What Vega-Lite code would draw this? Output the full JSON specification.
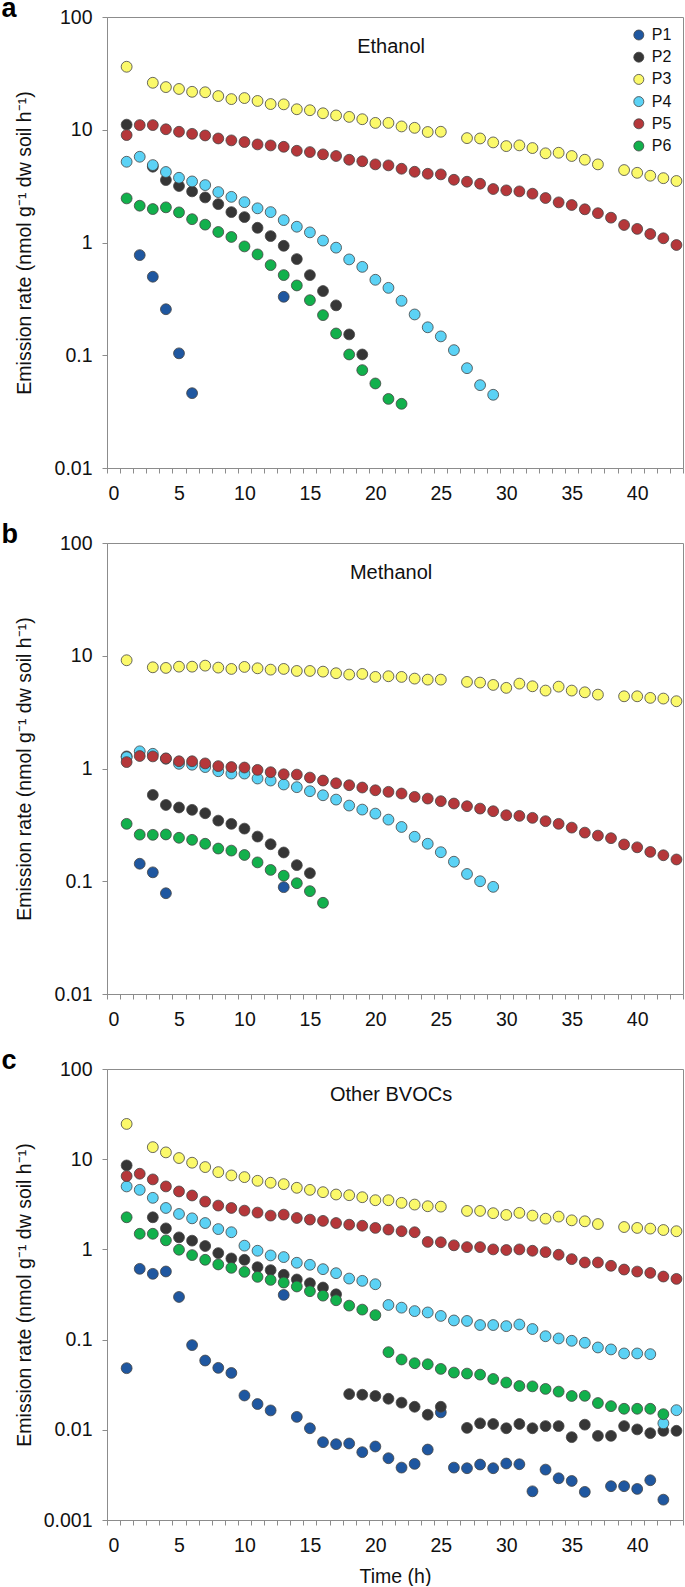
{
  "$schema": "https://vega.github.io/schema/vega-lite/v6.json",
  "padding": {"top": -6, "left": 0, "right": 2, "bottom": 0},
  "spacing": 16,
  "config": {
    "font": "Liberation Sans",
    "view": {"stroke": "#8c8c8c", "strokeWidth": 1},
    "axis": {"grid": false, "domainColor": "#8c8c8c", "tickColor": "#8c8c8c", "tickSize": 5, "labelFontSize": 19.5, "titleFontSize": 19.5, "labelColor": "#111", "titleColor": "#111", "titleFontWeight": "normal", "labelPadding": 10, "labelOverlap": false, "labelFlush": false},
    "axisX": {"labelOverlap": false, "labelFlush": false, "labelPadding": 11.5, "labelAlign": "center"},
    "title": {"fontSize": 27, "fontWeight": "bold", "color": "#000", "anchor": "start", "frame": "bounds", "dx": -13, "offset": -16}
  },
  "resolve": {"scale": {"x": "independent", "y": "independent", "color": "independent"}, "legend": {"color": "independent"}},
  "datasets": {
    "pts": [
      {"p":"a","s":"P1","t":2,"v":0.773},{"p":"a","s":"P1","t":3,"v":0.497},{"p":"a","s":"P1","t":4,"v":0.256},{"p":"a","s":"P1","t":5,"v":0.104},{"p":"a","s":"P1","t":6,"v":0.0461},{"p":"a","s":"P1","t":13,"v":0.33},
      {"p":"a","s":"P2","t":1,"v":11.1},{"p":"a","s":"P2","t":3,"v":4.7},{"p":"a","s":"P2","t":4,"v":3.58},{"p":"a","s":"P2","t":5,"v":3.17},{"p":"a","s":"P2","t":6,"v":2.84},{"p":"a","s":"P2","t":7,"v":2.51},{"p":"a","s":"P2","t":8,"v":2.19},{"p":"a","s":"P2","t":9,"v":1.86},{"p":"a","s":"P2","t":10,"v":1.68},{"p":"a","s":"P2","t":11,"v":1.35},{"p":"a","s":"P2","t":12,"v":1.14},{"p":"a","s":"P2","t":13,"v":0.935},{"p":"a","s":"P2","t":14,"v":0.713},{"p":"a","s":"P2","t":15,"v":0.514},{"p":"a","s":"P2","t":16,"v":0.371},{"p":"a","s":"P2","t":17,"v":0.277},{"p":"a","s":"P2","t":18,"v":0.153},{"p":"a","s":"P2","t":19,"v":0.1016},
      {"p":"a","s":"P3","t":1,"v":36.2},{"p":"a","s":"P3","t":3,"v":26.1},{"p":"a","s":"P3","t":4,"v":23.9},{"p":"a","s":"P3","t":5,"v":23.0},{"p":"a","s":"P3","t":6,"v":21.7},{"p":"a","s":"P3","t":7,"v":21.5},{"p":"a","s":"P3","t":8,"v":19.9},{"p":"a","s":"P3","t":9,"v":18.7},{"p":"a","s":"P3","t":10,"v":19.1},{"p":"a","s":"P3","t":11,"v":18.0},{"p":"a","s":"P3","t":12,"v":16.9},{"p":"a","s":"P3","t":13,"v":16.8},{"p":"a","s":"P3","t":14,"v":15.2},{"p":"a","s":"P3","t":15,"v":14.9},{"p":"a","s":"P3","t":16,"v":14.0},{"p":"a","s":"P3","t":17,"v":13.4},{"p":"a","s":"P3","t":18,"v":13.0},{"p":"a","s":"P3","t":19,"v":12.4},{"p":"a","s":"P3","t":20,"v":11.5},{"p":"a","s":"P3","t":21,"v":11.5},{"p":"a","s":"P3","t":22,"v":10.7},{"p":"a","s":"P3","t":23,"v":10.4},{"p":"a","s":"P3","t":24,"v":9.55},{"p":"a","s":"P3","t":25,"v":9.6},{"p":"a","s":"P3","t":27,"v":8.43},{"p":"a","s":"P3","t":28,"v":8.37},{"p":"a","s":"P3","t":29,"v":7.72},{"p":"a","s":"P3","t":30,"v":7.16},{"p":"a","s":"P3","t":31,"v":7.27},{"p":"a","s":"P3","t":32,"v":6.88},{"p":"a","s":"P3","t":33,"v":6.18},{"p":"a","s":"P3","t":34,"v":6.25},{"p":"a","s":"P3","t":35,"v":5.85},{"p":"a","s":"P3","t":36,"v":5.42},{"p":"a","s":"P3","t":37,"v":4.93},{"p":"a","s":"P3","t":39,"v":4.39},{"p":"a","s":"P3","t":40,"v":4.15},{"p":"a","s":"P3","t":41,"v":3.91},{"p":"a","s":"P3","t":42,"v":3.72},{"p":"a","s":"P3","t":43,"v":3.51},
      {"p":"a","s":"P4","t":1,"v":5.2},{"p":"a","s":"P4","t":2,"v":5.76},{"p":"a","s":"P4","t":3,"v":4.86},{"p":"a","s":"P4","t":4,"v":4.22},{"p":"a","s":"P4","t":5,"v":3.75},{"p":"a","s":"P4","t":6,"v":3.48},{"p":"a","s":"P4","t":7,"v":3.23},{"p":"a","s":"P4","t":8,"v":2.8},{"p":"a","s":"P4","t":9,"v":2.54},{"p":"a","s":"P4","t":10,"v":2.28},{"p":"a","s":"P4","t":11,"v":2.01},{"p":"a","s":"P4","t":12,"v":1.86},{"p":"a","s":"P4","t":13,"v":1.58},{"p":"a","s":"P4","t":14,"v":1.38},{"p":"a","s":"P4","t":15,"v":1.23},{"p":"a","s":"P4","t":16,"v":1.04},{"p":"a","s":"P4","t":17,"v":0.9},{"p":"a","s":"P4","t":18,"v":0.708},{"p":"a","s":"P4","t":19,"v":0.608},{"p":"a","s":"P4","t":20,"v":0.467},{"p":"a","s":"P4","t":21,"v":0.396},{"p":"a","s":"P4","t":22,"v":0.304},{"p":"a","s":"P4","t":23,"v":0.23},{"p":"a","s":"P4","t":24,"v":0.177},{"p":"a","s":"P4","t":25,"v":0.147},{"p":"a","s":"P4","t":26,"v":0.111},{"p":"a","s":"P4","t":27,"v":0.0768},{"p":"a","s":"P4","t":28,"v":0.0543},{"p":"a","s":"P4","t":29,"v":0.0446},
      {"p":"a","s":"P5","t":1,"v":8.97},{"p":"a","s":"P5","t":2,"v":11.0},{"p":"a","s":"P5","t":3,"v":11.0},{"p":"a","s":"P5","t":4,"v":10.1},{"p":"a","s":"P5","t":5,"v":9.6},{"p":"a","s":"P5","t":6,"v":9.2},{"p":"a","s":"P5","t":7,"v":8.9},{"p":"a","s":"P5","t":8,"v":8.37},{"p":"a","s":"P5","t":9,"v":8.05},{"p":"a","s":"P5","t":10,"v":7.78},{"p":"a","s":"P5","t":11,"v":7.41},{"p":"a","s":"P5","t":12,"v":7.26},{"p":"a","s":"P5","t":13,"v":7.06},{"p":"a","s":"P5","t":14,"v":6.51},{"p":"a","s":"P5","t":15,"v":6.34},{"p":"a","s":"P5","t":16,"v":6.05},{"p":"a","s":"P5","t":17,"v":5.85},{"p":"a","s":"P5","t":18,"v":5.42},{"p":"a","s":"P5","t":19,"v":5.25},{"p":"a","s":"P5","t":20,"v":4.93},{"p":"a","s":"P5","t":21,"v":4.83},{"p":"a","s":"P5","t":22,"v":4.51},{"p":"a","s":"P5","t":23,"v":4.24},{"p":"a","s":"P5","t":24,"v":4.07},{"p":"a","s":"P5","t":25,"v":4.02},{"p":"a","s":"P5","t":26,"v":3.6},{"p":"a","s":"P5","t":27,"v":3.46},{"p":"a","s":"P5","t":28,"v":3.32},{"p":"a","s":"P5","t":29,"v":2.98},{"p":"a","s":"P5","t":30,"v":2.9},{"p":"a","s":"P5","t":31,"v":2.84},{"p":"a","s":"P5","t":32,"v":2.71},{"p":"a","s":"P5","t":33,"v":2.48},{"p":"a","s":"P5","t":34,"v":2.27},{"p":"a","s":"P5","t":35,"v":2.15},{"p":"a","s":"P5","t":36,"v":1.97},{"p":"a","s":"P5","t":37,"v":1.82},{"p":"a","s":"P5","t":38,"v":1.66},{"p":"a","s":"P5","t":39,"v":1.43},{"p":"a","s":"P5","t":40,"v":1.32},{"p":"a","s":"P5","t":41,"v":1.19},{"p":"a","s":"P5","t":42,"v":1.09},{"p":"a","s":"P5","t":43,"v":0.95},
      {"p":"a","s":"P6","t":1,"v":2.46},{"p":"a","s":"P6","t":2,"v":2.12},{"p":"a","s":"P6","t":3,"v":1.98},{"p":"a","s":"P6","t":4,"v":2.05},{"p":"a","s":"P6","t":5,"v":1.85},{"p":"a","s":"P6","t":6,"v":1.61},{"p":"a","s":"P6","t":7,"v":1.44},{"p":"a","s":"P6","t":8,"v":1.24},{"p":"a","s":"P6","t":9,"v":1.12},{"p":"a","s":"P6","t":10,"v":0.923},{"p":"a","s":"P6","t":11,"v":0.784},{"p":"a","s":"P6","t":12,"v":0.63},{"p":"a","s":"P6","t":13,"v":0.514},{"p":"a","s":"P6","t":14,"v":0.416},{"p":"a","s":"P6","t":15,"v":0.308},{"p":"a","s":"P6","t":16,"v":0.227},{"p":"a","s":"P6","t":17,"v":0.156},{"p":"a","s":"P6","t":18,"v":0.1016},{"p":"a","s":"P6","t":19,"v":0.0738},{"p":"a","s":"P6","t":20,"v":0.0562},{"p":"a","s":"P6","t":21,"v":0.041},{"p":"a","s":"P6","t":22,"v":0.0371},

      {"p":"b","s":"P1","t":2,"v":0.143},{"p":"b","s":"P1","t":3,"v":0.12},{"p":"b","s":"P1","t":4,"v":0.0783},{"p":"b","s":"P1","t":13,"v":0.0886},
      {"p":"b","s":"P2","t":1,"v":1.28},{"p":"b","s":"P2","t":3,"v":0.583},{"p":"b","s":"P2","t":4,"v":0.475},{"p":"b","s":"P2","t":5,"v":0.451},{"p":"b","s":"P2","t":6,"v":0.43},{"p":"b","s":"P2","t":7,"v":0.401},{"p":"b","s":"P2","t":8,"v":0.345},{"p":"b","s":"P2","t":9,"v":0.323},{"p":"b","s":"P2","t":10,"v":0.293},{"p":"b","s":"P2","t":11,"v":0.249},{"p":"b","s":"P2","t":12,"v":0.213},{"p":"b","s":"P2","t":13,"v":0.18},{"p":"b","s":"P2","t":14,"v":0.139},{"p":"b","s":"P2","t":15,"v":0.118},
      {"p":"b","s":"P3","t":1,"v":9.12},{"p":"b","s":"P3","t":3,"v":7.9},{"p":"b","s":"P3","t":4,"v":7.8},{"p":"b","s":"P3","t":5,"v":8.0},{"p":"b","s":"P3","t":6,"v":8.0},{"p":"b","s":"P3","t":7,"v":8.17},{"p":"b","s":"P3","t":8,"v":7.85},{"p":"b","s":"P3","t":9,"v":7.64},{"p":"b","s":"P3","t":10,"v":7.96},{"p":"b","s":"P3","t":11,"v":7.74},{"p":"b","s":"P3","t":12,"v":7.53},{"p":"b","s":"P3","t":13,"v":7.64},{"p":"b","s":"P3","t":14,"v":7.33},{"p":"b","s":"P3","t":15,"v":7.33},{"p":"b","s":"P3","t":16,"v":7.23},{"p":"b","s":"P3","t":17,"v":7.0},{"p":"b","s":"P3","t":18,"v":6.81},{"p":"b","s":"P3","t":19,"v":6.9},{"p":"b","s":"P3","t":20,"v":6.49},{"p":"b","s":"P3","t":21,"v":6.58},{"p":"b","s":"P3","t":22,"v":6.49},{"p":"b","s":"P3","t":23,"v":6.27},{"p":"b","s":"P3","t":24,"v":6.14},{"p":"b","s":"P3","t":25,"v":6.14},{"p":"b","s":"P3","t":27,"v":5.86},{"p":"b","s":"P3","t":28,"v":5.78},{"p":"b","s":"P3","t":29,"v":5.51},{"p":"b","s":"P3","t":30,"v":5.19},{"p":"b","s":"P3","t":31,"v":5.66},{"p":"b","s":"P3","t":32,"v":5.36},{"p":"b","s":"P3","t":33,"v":4.91},{"p":"b","s":"P3","t":34,"v":5.32},{"p":"b","s":"P3","t":35,"v":4.91},{"p":"b","s":"P3","t":36,"v":4.74},{"p":"b","s":"P3","t":37,"v":4.52},{"p":"b","s":"P3","t":39,"v":4.37},{"p":"b","s":"P3","t":40,"v":4.37},{"p":"b","s":"P3","t":41,"v":4.23},{"p":"b","s":"P3","t":42,"v":4.17},{"p":"b","s":"P3","t":43,"v":3.95},
      {"p":"b","s":"P4","t":1,"v":1.26},{"p":"b","s":"P4","t":2,"v":1.42},{"p":"b","s":"P4","t":3,"v":1.35},{"p":"b","s":"P4","t":4,"v":1.22},{"p":"b","s":"P4","t":5,"v":1.1},{"p":"b","s":"P4","t":6,"v":1.08},{"p":"b","s":"P4","t":7,"v":1.03},{"p":"b","s":"P4","t":8,"v":0.946},{"p":"b","s":"P4","t":9,"v":0.902},{"p":"b","s":"P4","t":10,"v":0.902},{"p":"b","s":"P4","t":11,"v":0.815},{"p":"b","s":"P4","t":12,"v":0.782},{"p":"b","s":"P4","t":13,"v":0.721},{"p":"b","s":"P4","t":14,"v":0.683},{"p":"b","s":"P4","t":15,"v":0.629},{"p":"b","s":"P4","t":16,"v":0.579},{"p":"b","s":"P4","t":17,"v":0.53},{"p":"b","s":"P4","t":18,"v":0.469},{"p":"b","s":"P4","t":19,"v":0.432},{"p":"b","s":"P4","t":20,"v":0.398},{"p":"b","s":"P4","t":21,"v":0.352},{"p":"b","s":"P4","t":22,"v":0.303},{"p":"b","s":"P4","t":23,"v":0.248},{"p":"b","s":"P4","t":24,"v":0.215},{"p":"b","s":"P4","t":25,"v":0.181},{"p":"b","s":"P4","t":26,"v":0.149},{"p":"b","s":"P4","t":27,"v":0.116},{"p":"b","s":"P4","t":28,"v":0.1},{"p":"b","s":"P4","t":29,"v":0.0892},
      {"p":"b","s":"P5","t":1,"v":1.14},{"p":"b","s":"P5","t":2,"v":1.29},{"p":"b","s":"P5","t":3,"v":1.28},{"p":"b","s":"P5","t":4,"v":1.23},{"p":"b","s":"P5","t":5,"v":1.16},{"p":"b","s":"P5","t":6,"v":1.16},{"p":"b","s":"P5","t":7,"v":1.11},{"p":"b","s":"P5","t":8,"v":1.05},{"p":"b","s":"P5","t":9,"v":1.03},{"p":"b","s":"P5","t":10,"v":1.02},{"p":"b","s":"P5","t":11,"v":0.972},{"p":"b","s":"P5","t":12,"v":0.927},{"p":"b","s":"P5","t":13,"v":0.889},{"p":"b","s":"P5","t":14,"v":0.883},{"p":"b","s":"P5","t":15,"v":0.831},{"p":"b","s":"P5","t":16,"v":0.782},{"p":"b","s":"P5","t":17,"v":0.74},{"p":"b","s":"P5","t":18,"v":0.711},{"p":"b","s":"P5","t":19,"v":0.678},{"p":"b","s":"P5","t":20,"v":0.641},{"p":"b","s":"P5","t":21,"v":0.621},{"p":"b","s":"P5","t":22,"v":0.6},{"p":"b","s":"P5","t":23,"v":0.56},{"p":"b","s":"P5","t":24,"v":0.541},{"p":"b","s":"P5","t":25,"v":0.513},{"p":"b","s":"P5","t":26,"v":0.489},{"p":"b","s":"P5","t":27,"v":0.463},{"p":"b","s":"P5","t":28,"v":0.441},{"p":"b","s":"P5","t":29,"v":0.418},{"p":"b","s":"P5","t":30,"v":0.385},{"p":"b","s":"P5","t":31,"v":0.38},{"p":"b","s":"P5","t":32,"v":0.365},{"p":"b","s":"P5","t":33,"v":0.341},{"p":"b","s":"P5","t":34,"v":0.323},{"p":"b","s":"P5","t":35,"v":0.299},{"p":"b","s":"P5","t":36,"v":0.27},{"p":"b","s":"P5","t":37,"v":0.254},{"p":"b","s":"P5","t":38,"v":0.241},{"p":"b","s":"P5","t":39,"v":0.212},{"p":"b","s":"P5","t":40,"v":0.2},{"p":"b","s":"P5","t":41,"v":0.182},{"p":"b","s":"P5","t":42,"v":0.17},{"p":"b","s":"P5","t":43,"v":0.156},
      {"p":"b","s":"P6","t":1,"v":0.323},{"p":"b","s":"P6","t":2,"v":0.259},{"p":"b","s":"P6","t":3,"v":0.258},{"p":"b","s":"P6","t":4,"v":0.26},{"p":"b","s":"P6","t":5,"v":0.243},{"p":"b","s":"P6","t":6,"v":0.233},{"p":"b","s":"P6","t":7,"v":0.215},{"p":"b","s":"P6","t":8,"v":0.195},{"p":"b","s":"P6","t":9,"v":0.187},{"p":"b","s":"P6","t":10,"v":0.171},{"p":"b","s":"P6","t":11,"v":0.147},{"p":"b","s":"P6","t":12,"v":0.126},{"p":"b","s":"P6","t":13,"v":0.112},{"p":"b","s":"P6","t":14,"v":0.0961},{"p":"b","s":"P6","t":15,"v":0.0817},{"p":"b","s":"P6","t":16,"v":0.0644},

      {"p":"c","s":"P1","t":1,"v":0.0482},{"p":"c","s":"P1","t":2,"v":0.609},{"p":"c","s":"P1","t":3,"v":0.536},{"p":"c","s":"P1","t":4,"v":0.569},{"p":"c","s":"P1","t":5,"v":0.297},{"p":"c","s":"P1","t":6,"v":0.0869},{"p":"c","s":"P1","t":7,"v":0.0586},{"p":"c","s":"P1","t":8,"v":0.0486},{"p":"c","s":"P1","t":9,"v":0.0427},{"p":"c","s":"P1","t":10,"v":0.024},{"p":"c","s":"P1","t":11,"v":0.0193},{"p":"c","s":"P1","t":12,"v":0.0164},{"p":"c","s":"P1","t":13,"v":0.313},{"p":"c","s":"P1","t":14,"v":0.0139},{"p":"c","s":"P1","t":15,"v":0.0104},{"p":"c","s":"P1","t":16,"v":0.00729},{"p":"c","s":"P1","t":17,"v":0.00693},{"p":"c","s":"P1","t":18,"v":0.00705},{"p":"c","s":"P1","t":19,"v":0.00565},{"p":"c","s":"P1","t":20,"v":0.00653},{"p":"c","s":"P1","t":21,"v":0.00484},{"p":"c","s":"P1","t":22,"v":0.00381},{"p":"c","s":"P1","t":23,"v":0.00419},{"p":"c","s":"P1","t":24,"v":0.00604},{"p":"c","s":"P1","t":25,"v":0.0156},{"p":"c","s":"P1","t":26,"v":0.00381},{"p":"c","s":"P1","t":27,"v":0.00375},{"p":"c","s":"P1","t":28,"v":0.00412},{"p":"c","s":"P1","t":29,"v":0.00375},{"p":"c","s":"P1","t":30,"v":0.00423},{"p":"c","s":"P1","t":31,"v":0.00415},{"p":"c","s":"P1","t":32,"v":0.00208},{"p":"c","s":"P1","t":33,"v":0.00362},{"p":"c","s":"P1","t":34,"v":0.0029},{"p":"c","s":"P1","t":35,"v":0.00271},{"p":"c","s":"P1","t":36,"v":0.00205},{"p":"c","s":"P1","t":38,"v":0.00237},{"p":"c","s":"P1","t":39,"v":0.00237},{"p":"c","s":"P1","t":40,"v":0.00221},{"p":"c","s":"P1","t":41,"v":0.00276},{"p":"c","s":"P1","t":42,"v":0.00168},
      {"p":"c","s":"P2","t":1,"v":8.53},{"p":"c","s":"P2","t":3,"v":2.27},{"p":"c","s":"P2","t":4,"v":1.71},{"p":"c","s":"P2","t":5,"v":1.36},{"p":"c","s":"P2","t":6,"v":1.25},{"p":"c","s":"P2","t":7,"v":1.09},{"p":"c","s":"P2","t":8,"v":0.91},{"p":"c","s":"P2","t":9,"v":0.794},{"p":"c","s":"P2","t":10,"v":0.767},{"p":"c","s":"P2","t":11,"v":0.635},{"p":"c","s":"P2","t":12,"v":0.589},{"p":"c","s":"P2","t":13,"v":0.523},{"p":"c","s":"P2","t":14,"v":0.464},{"p":"c","s":"P2","t":15,"v":0.422},{"p":"c","s":"P2","t":16,"v":0.378},{"p":"c","s":"P2","t":17,"v":0.318},{"p":"c","s":"P2","t":18,"v":0.0249},{"p":"c","s":"P2","t":19,"v":0.0245},{"p":"c","s":"P2","t":20,"v":0.0237},{"p":"c","s":"P2","t":21,"v":0.0221},{"p":"c","s":"P2","t":22,"v":0.02},{"p":"c","s":"P2","t":23,"v":0.018},{"p":"c","s":"P2","t":24,"v":0.0147},{"p":"c","s":"P2","t":25,"v":0.018},{"p":"c","s":"P2","t":27,"v":0.0105},{"p":"c","s":"P2","t":28,"v":0.0118},{"p":"c","s":"P2","t":29,"v":0.0116},{"p":"c","s":"P2","t":30,"v":0.0104},{"p":"c","s":"P2","t":31,"v":0.0116},{"p":"c","s":"P2","t":32,"v":0.0104},{"p":"c","s":"P2","t":33,"v":0.011},{"p":"c","s":"P2","t":34,"v":0.011},{"p":"c","s":"P2","t":35,"v":0.00829},{"p":"c","s":"P2","t":36,"v":0.0114},{"p":"c","s":"P2","t":37,"v":0.00857},{"p":"c","s":"P2","t":38,"v":0.00857},{"p":"c","s":"P2","t":39,"v":0.011},{"p":"c","s":"P2","t":40,"v":0.0101},{"p":"c","s":"P2","t":41,"v":0.00918},{"p":"c","s":"P2","t":42,"v":0.00975},{"p":"c","s":"P2","t":43,"v":0.00975},
      {"p":"c","s":"P3","t":1,"v":24.6},{"p":"c","s":"P3","t":3,"v":13.6},{"p":"c","s":"P3","t":4,"v":11.9},{"p":"c","s":"P3","t":5,"v":10.3},{"p":"c","s":"P3","t":6,"v":9.14},{"p":"c","s":"P3","t":7,"v":8.18},{"p":"c","s":"P3","t":8,"v":7.19},{"p":"c","s":"P3","t":9,"v":6.61},{"p":"c","s":"P3","t":10,"v":6.33},{"p":"c","s":"P3","t":11,"v":5.76},{"p":"c","s":"P3","t":12,"v":5.48},{"p":"c","s":"P3","t":13,"v":5.29},{"p":"c","s":"P3","t":14,"v":4.82},{"p":"c","s":"P3","t":15,"v":4.57},{"p":"c","s":"P3","t":16,"v":4.31},{"p":"c","s":"P3","t":17,"v":4.06},{"p":"c","s":"P3","t":18,"v":3.99},{"p":"c","s":"P3","t":19,"v":3.79},{"p":"c","s":"P3","t":20,"v":3.51},{"p":"c","s":"P3","t":21,"v":3.51},{"p":"c","s":"P3","t":22,"v":3.28},{"p":"c","s":"P3","t":23,"v":3.14},{"p":"c","s":"P3","t":24,"v":3.01},{"p":"c","s":"P3","t":25,"v":2.98},{"p":"c","s":"P3","t":27,"v":2.67},{"p":"c","s":"P3","t":28,"v":2.67},{"p":"c","s":"P3","t":29,"v":2.52},{"p":"c","s":"P3","t":30,"v":2.41},{"p":"c","s":"P3","t":31,"v":2.54},{"p":"c","s":"P3","t":32,"v":2.37},{"p":"c","s":"P3","t":33,"v":2.19},{"p":"c","s":"P3","t":34,"v":2.31},{"p":"c","s":"P3","t":35,"v":2.1},{"p":"c","s":"P3","t":36,"v":2.05},{"p":"c","s":"P3","t":37,"v":1.91},{"p":"c","s":"P3","t":39,"v":1.77},{"p":"c","s":"P3","t":40,"v":1.73},{"p":"c","s":"P3","t":41,"v":1.7},{"p":"c","s":"P3","t":42,"v":1.64},{"p":"c","s":"P3","t":43,"v":1.59},
      {"p":"c","s":"P4","t":1,"v":4.99},{"p":"c","s":"P4","t":2,"v":4.57},{"p":"c","s":"P4","t":3,"v":3.73},{"p":"c","s":"P4","t":4,"v":2.88},{"p":"c","s":"P4","t":5,"v":2.47},{"p":"c","s":"P4","t":6,"v":2.21},{"p":"c","s":"P4","t":7,"v":1.96},{"p":"c","s":"P4","t":8,"v":1.68},{"p":"c","s":"P4","t":9,"v":1.55},{"p":"c","s":"P4","t":10,"v":1.1},{"p":"c","s":"P4","t":11,"v":0.966},{"p":"c","s":"P4","t":12,"v":0.857},{"p":"c","s":"P4","t":13,"v":0.822},{"p":"c","s":"P4","t":14,"v":0.711},{"p":"c","s":"P4","t":15,"v":0.675},{"p":"c","s":"P4","t":16,"v":0.604},{"p":"c","s":"P4","t":17,"v":0.545},{"p":"c","s":"P4","t":18,"v":0.475},{"p":"c","s":"P4","t":19,"v":0.448},{"p":"c","s":"P4","t":20,"v":0.411},{"p":"c","s":"P4","t":21,"v":0.242},{"p":"c","s":"P4","t":22,"v":0.226},{"p":"c","s":"P4","t":23,"v":0.207},{"p":"c","s":"P4","t":24,"v":0.2},{"p":"c","s":"P4","t":25,"v":0.183},{"p":"c","s":"P4","t":26,"v":0.163},{"p":"c","s":"P4","t":27,"v":0.161},{"p":"c","s":"P4","t":28,"v":0.145},{"p":"c","s":"P4","t":29,"v":0.145},{"p":"c","s":"P4","t":30,"v":0.141},{"p":"c","s":"P4","t":31,"v":0.147},{"p":"c","s":"P4","t":32,"v":0.131},{"p":"c","s":"P4","t":33,"v":0.109},{"p":"c","s":"P4","t":34,"v":0.103},{"p":"c","s":"P4","t":35,"v":0.097},{"p":"c","s":"P4","t":36,"v":0.0922},{"p":"c","s":"P4","t":37,"v":0.0818},{"p":"c","s":"P4","t":38,"v":0.0778},{"p":"c","s":"P4","t":39,"v":0.0702},{"p":"c","s":"P4","t":40,"v":0.0702},{"p":"c","s":"P4","t":41,"v":0.069},{"p":"c","s":"P4","t":42,"v":0.0118},{"p":"c","s":"P4","t":43,"v":0.0165},
      {"p":"c","s":"P5","t":1,"v":6.5},{"p":"c","s":"P5","t":2,"v":6.9},{"p":"c","s":"P5","t":3,"v":5.97},{"p":"c","s":"P5","t":4,"v":4.99},{"p":"c","s":"P5","t":5,"v":4.39},{"p":"c","s":"P5","t":6,"v":3.96},{"p":"c","s":"P5","t":7,"v":3.39},{"p":"c","s":"P5","t":8,"v":3.06},{"p":"c","s":"P5","t":9,"v":2.88},{"p":"c","s":"P5","t":10,"v":2.69},{"p":"c","s":"P5","t":11,"v":2.56},{"p":"c","s":"P5","t":12,"v":2.37},{"p":"c","s":"P5","t":13,"v":2.43},{"p":"c","s":"P5","t":14,"v":2.23},{"p":"c","s":"P5","t":15,"v":2.14},{"p":"c","s":"P5","t":16,"v":2.07},{"p":"c","s":"P5","t":17,"v":1.96},{"p":"c","s":"P5","t":18,"v":1.88},{"p":"c","s":"P5","t":19,"v":1.83},{"p":"c","s":"P5","t":20,"v":1.73},{"p":"c","s":"P5","t":21,"v":1.66},{"p":"c","s":"P5","t":22,"v":1.59},{"p":"c","s":"P5","t":23,"v":1.55},{"p":"c","s":"P5","t":24,"v":1.21},{"p":"c","s":"P5","t":25,"v":1.2},{"p":"c","s":"P5","t":26,"v":1.11},{"p":"c","s":"P5","t":27,"v":1.06},{"p":"c","s":"P5","t":28,"v":1.06},{"p":"c","s":"P5","t":29,"v":1.0},{"p":"c","s":"P5","t":30,"v":0.984},{"p":"c","s":"P5","t":31,"v":1.0},{"p":"c","s":"P5","t":32,"v":0.966},{"p":"c","s":"P5","t":33,"v":0.934},{"p":"c","s":"P5","t":34,"v":0.873},{"p":"c","s":"P5","t":35,"v":0.78},{"p":"c","s":"P5","t":36,"v":0.716},{"p":"c","s":"P5","t":37,"v":0.716},{"p":"c","s":"P5","t":38,"v":0.658},{"p":"c","s":"P5","t":39,"v":0.598},{"p":"c","s":"P5","t":40,"v":0.568},{"p":"c","s":"P5","t":41,"v":0.549},{"p":"c","s":"P5","t":42,"v":0.5},{"p":"c","s":"P5","t":43,"v":0.471},
      {"p":"c","s":"P6","t":1,"v":2.27},{"p":"c","s":"P6","t":2,"v":1.49},{"p":"c","s":"P6","t":3,"v":1.49},{"p":"c","s":"P6","t":4,"v":1.26},{"p":"c","s":"P6","t":5,"v":0.991},{"p":"c","s":"P6","t":6,"v":0.865},{"p":"c","s":"P6","t":7,"v":0.767},{"p":"c","s":"P6","t":8,"v":0.681},{"p":"c","s":"P6","t":9,"v":0.625},{"p":"c","s":"P6","t":10,"v":0.564},{"p":"c","s":"P6","t":11,"v":0.496},{"p":"c","s":"P6","t":12,"v":0.459},{"p":"c","s":"P6","t":13,"v":0.429},{"p":"c","s":"P6","t":14,"v":0.388},{"p":"c","s":"P6","t":15,"v":0.344},{"p":"c","s":"P6","t":16,"v":0.307},{"p":"c","s":"P6","t":17,"v":0.273},{"p":"c","s":"P6","t":18,"v":0.238},{"p":"c","s":"P6","t":19,"v":0.215},{"p":"c","s":"P6","t":20,"v":0.187},{"p":"c","s":"P6","t":21,"v":0.0726},{"p":"c","s":"P6","t":22,"v":0.0602},{"p":"c","s":"P6","t":23,"v":0.0547},{"p":"c","s":"P6","t":24,"v":0.0533},{"p":"c","s":"P6","t":25,"v":0.0473},{"p":"c","s":"P6","t":26,"v":0.0431},{"p":"c","s":"P6","t":27,"v":0.042},{"p":"c","s":"P6","t":28,"v":0.0409},{"p":"c","s":"P6","t":29,"v":0.0366},{"p":"c","s":"P6","t":30,"v":0.0334},{"p":"c","s":"P6","t":31,"v":0.0306},{"p":"c","s":"P6","t":32,"v":0.0303},{"p":"c","s":"P6","t":33,"v":0.0284},{"p":"c","s":"P6","t":34,"v":0.0265},{"p":"c","s":"P6","t":35,"v":0.0237},{"p":"c","s":"P6","t":36,"v":0.0238},{"p":"c","s":"P6","t":37,"v":0.0198},{"p":"c","s":"P6","t":38,"v":0.0183},{"p":"c","s":"P6","t":39,"v":0.0171},{"p":"c","s":"P6","t":40,"v":0.0171},{"p":"c","s":"P6","t":41,"v":0.0171},{"p":"c","s":"P6","t":42,"v":0.0149}
    ]
  },
  "vconcat": [
    {
      "width": 576, "height": 451,
      "title": {"text": "a"},
      "layer": [
        {
          "data": {"name": "pts"},
          "transform": [{"filter": "datum.p === 'a'"}],
          "mark": {"type": "circle", "size": 118, "stroke": "#444", "strokeWidth": 0.8, "opacity": 1},
          "encoding": {
            "x": {"field": "t", "type": "quantitative", "scale": {"domain": [-0.5, 43.5], "nice": false, "zero": false}, "axis": {"title": null, "values": [-0.5,0.5,1.5,2.5,3.5,4.5,5.5,6.5,7.5,8.5,9.5,10.5,11.5,12.5,13.5,14.5,15.5,16.5,17.5,18.5,19.5,20.5,21.5,22.5,23.5,24.5,25.5,26.5,27.5,28.5,29.5,30.5,31.5,32.5,33.5,34.5,35.5,36.5,37.5,38.5,39.5,40.5,41.5,42.5,43.5], "tickCount": 200, "labelOffset": 6.545, "labelOverlap": false, "labelFlush": false, "labelAlign": "center", "labelExpr": "(datum.value + 0.5) % 5 === 0 && datum.value < 41 ? format(datum.value + 0.5, 'd') : ''"}},
            "y": {"field": "v", "type": "quantitative", "scale": {"type": "log", "domain": [0.01, 100], "nice": false}, "axis": {"title": "Emission rate (nmol g\u207b\u00b9 dw soil h\u207b\u00b9)", "values": [0.01, 0.1, 1, 10, 100], "format": "~g", "titlePadding": 19.6}},
            "color": {"field": "s", "type": "nominal", "scale": {"domain": ["P1","P2","P3","P4","P5","P6"], "range": ["#1f57a0","#363636","#fbf96a","#5bd2f5","#b5373a","#12b04c"]}, "legend": {"title": null, "orient": "none", "legendX": 523.8, "legendY": 10, "padding": 0, "labelFontSize": 16, "symbolSize": 100, "symbolType": "circle", "rowPadding": 6.2, "labelOffset": 5, "symbolStrokeColor": "#444", "symbolStrokeWidth": 0.8, "labelColor": "#111"}}
          }
        },
        {
          "data": {"values": [{"t": 21.2, "v": 54.5, "label": "Ethanol"}]},
          "mark": {"type": "text", "fontSize": 20, "color": "#111"},
          "encoding": {"x": {"field": "t", "type": "quantitative"}, "y": {"field": "v", "type": "quantitative"}, "text": {"field": "label"}}
        }
      ]
    },
    {
      "width": 576, "height": 451,
      "title": {"text": "b"},
      "layer": [
        {
          "data": {"name": "pts"},
          "transform": [{"filter": "datum.p === 'b'"}],
          "mark": {"type": "circle", "size": 118, "stroke": "#444", "strokeWidth": 0.8, "opacity": 1},
          "encoding": {
            "x": {"field": "t", "type": "quantitative", "scale": {"domain": [-0.5, 43.5], "nice": false, "zero": false}, "axis": {"title": null, "values": [-0.5,0.5,1.5,2.5,3.5,4.5,5.5,6.5,7.5,8.5,9.5,10.5,11.5,12.5,13.5,14.5,15.5,16.5,17.5,18.5,19.5,20.5,21.5,22.5,23.5,24.5,25.5,26.5,27.5,28.5,29.5,30.5,31.5,32.5,33.5,34.5,35.5,36.5,37.5,38.5,39.5,40.5,41.5,42.5,43.5], "tickCount": 200, "labelOffset": 6.545, "labelOverlap": false, "labelFlush": false, "labelAlign": "center", "labelExpr": "(datum.value + 0.5) % 5 === 0 && datum.value < 41 ? format(datum.value + 0.5, 'd') : ''"}},
            "y": {"field": "v", "type": "quantitative", "scale": {"type": "log", "domain": [0.01, 100], "nice": false}, "axis": {"title": "Emission rate (nmol g\u207b\u00b9 dw soil h\u207b\u00b9)", "values": [0.01, 0.1, 1, 10, 100], "format": "~g", "titlePadding": 19.6}},
            "color": {"field": "s", "type": "nominal", "scale": {"domain": ["P1","P2","P3","P4","P5","P6"], "range": ["#1f57a0","#363636","#fbf96a","#5bd2f5","#b5373a","#12b04c"]}, "legend": null}
          }
        },
        {
          "data": {"values": [{"t": 21.2, "v": 53.8, "label": "Methanol"}]},
          "mark": {"type": "text", "fontSize": 20, "color": "#111"},
          "encoding": {"x": {"field": "t", "type": "quantitative"}, "y": {"field": "v", "type": "quantitative"}, "text": {"field": "label"}}
        }
      ]
    },
    {
      "width": 576, "height": 451,
      "title": {"text": "c"},
      "layer": [
        {
          "data": {"name": "pts"},
          "transform": [{"filter": "datum.p === 'c'"}],
          "mark": {"type": "circle", "size": 118, "stroke": "#444", "strokeWidth": 0.8, "opacity": 1},
          "encoding": {
            "x": {"field": "t", "type": "quantitative", "scale": {"domain": [-0.5, 43.5], "nice": false, "zero": false}, "axis": {"title": "Time (h)", "titlePadding": 12, "values": [-0.5,0.5,1.5,2.5,3.5,4.5,5.5,6.5,7.5,8.5,9.5,10.5,11.5,12.5,13.5,14.5,15.5,16.5,17.5,18.5,19.5,20.5,21.5,22.5,23.5,24.5,25.5,26.5,27.5,28.5,29.5,30.5,31.5,32.5,33.5,34.5,35.5,36.5,37.5,38.5,39.5,40.5,41.5,42.5,43.5], "tickCount": 200, "labelOffset": 6.545, "labelOverlap": false, "labelFlush": false, "labelAlign": "center", "labelExpr": "(datum.value + 0.5) % 5 === 0 && datum.value < 41 ? format(datum.value + 0.5, 'd') : ''"}},
            "y": {"field": "v", "type": "quantitative", "scale": {"type": "log", "domain": [0.001, 100], "nice": false}, "axis": {"title": "Emission rate (nmol g\u207b\u00b9 dw soil h\u207b\u00b9)", "values": [0.001, 0.01, 0.1, 1, 10, 100], "format": "~g", "titlePadding": 8.6}},
            "color": {"field": "s", "type": "nominal", "scale": {"domain": ["P1","P2","P3","P4","P5","P6"], "range": ["#1f57a0","#363636","#fbf96a","#5bd2f5","#b5373a","#12b04c"]}, "legend": null}
          }
        },
        {
          "data": {"values": [{"t": 21.2, "v": 51.9, "label": "Other BVOCs"}]},
          "mark": {"type": "text", "fontSize": 20, "color": "#111"},
          "encoding": {"x": {"field": "t", "type": "quantitative"}, "y": {"field": "v", "type": "quantitative"}, "text": {"field": "label"}}
        }
      ]
    }
  ]
}
